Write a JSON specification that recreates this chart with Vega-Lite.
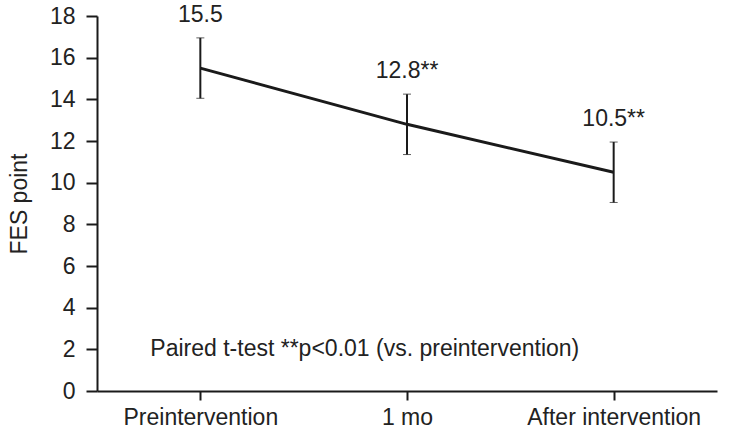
{
  "$schema": "https://vega.github.io/schema/vega-lite/v6.json",
  "width": 620,
  "height": 375,
  "autosize": "none",
  "padding": {"left": 97, "top": 16, "right": 16, "bottom": 46},
  "background": "white",
  "config": {
    "view": {"stroke": null},
    "font": "Liberation Sans",
    "axis": {
      "domainColor": "#1a1a1a",
      "domainWidth": 2,
      "tickColor": "#1a1a1a",
      "tickWidth": 2,
      "labelColor": "#222222",
      "labelFont": "Liberation Sans",
      "labelFontSize": 23,
      "titleFont": "Liberation Sans",
      "titleFontSize": 23,
      "titleFontWeight": "normal",
      "titleColor": "#222222",
      "grid": false
    }
  },
  "data": {
    "values": [
      {"time": "Preintervention", "mean": 15.5, "lower": 14.05, "upper": 16.95, "label": "15.5"},
      {"time": "1 mo", "mean": 12.8, "lower": 11.35, "upper": 14.25, "label": "12.8**"},
      {"time": "After intervention", "mean": 10.5, "lower": 9.05, "upper": 11.95, "label": "10.5**"}
    ]
  },
  "encoding": {
    "x": {
      "field": "time",
      "type": "ordinal",
      "sort": null,
      "scale": {"type": "point", "padding": 0.5},
      "axis": {"title": null, "labelAngle": 0, "tickSize": 9, "labelPadding": 6}
    }
  },
  "layer": [
    {
      "mark": {"type": "line", "color": "#1a1a1a", "strokeWidth": 3},
      "encoding": {
        "y": {
          "field": "mean",
          "type": "quantitative",
          "title": "FES point",
          "scale": {"domain": [0, 18]},
          "axis": {"title": "FES point", "values": [0, 2, 4, 6, 8, 10, 12, 14, 16, 18], "tickSize": 11, "labelPadding": 11, "titlePadding": 18}
        }
      }
    },
    {
      "mark": {"type": "errorbar", "ticks": {"color": "#1a1a1a", "strokeWidth": 2, "size": 8}, "rule": {"color": "#1a1a1a", "strokeWidth": 2}},
      "encoding": {
        "y": {"field": "lower", "type": "quantitative", "title": "FES point"},
        "y2": {"field": "upper"}
      }
    },
    {
      "mark": {"type": "text", "baseline": "alphabetic", "align": "center", "dy": -16, "fontSize": 23, "color": "#222222"},
      "encoding": {
        "y": {"field": "upper", "type": "quantitative", "title": "FES point"},
        "text": {"field": "label"}
      }
    },
    {
      "data": {"values": [{"note": "Paired t-test **p<0.01 (vs. preintervention)"}]},
      "mark": {"type": "text", "align": "left", "baseline": "middle", "dx": -50, "fontSize": 23, "color": "#222222"},
      "encoding": {
        "x": {"datum": "Preintervention"},
        "y": {"datum": 2},
        "text": {"field": "note"}
      }
    }
  ]
}
